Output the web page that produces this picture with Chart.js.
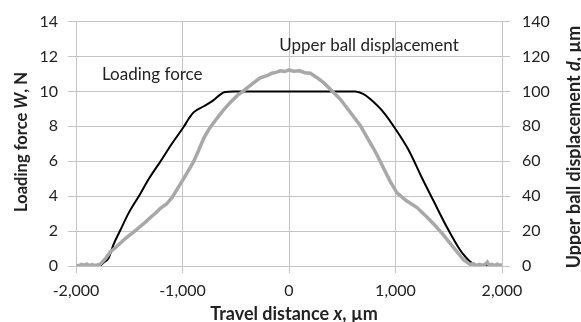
<!DOCTYPE html>
<html>
<head>
<meta charset="utf-8">
<script src="https://cdn.jsdelivr.net/npm/chart.js@4/dist/chart.umd.min.js"></script>
<style>
  html, body { margin: 0; padding: 0; background: #fff; }
</style>
</head>
<body>
<canvas id="graph" width="581" height="322"></canvas>
<script>
// 荷重 W [N] vs 移動距離 x [µm]
const forceX = [-2000, -1780, -1740, -1694, -1650, -1584, -1500, -1400, -1310, -1208, -1100, -990, -940, -896, -800, -708, -640, -600, -520, 0, 623, 700, 763, 888, 1008, 1123, 1249, 1358, 1483, 1608, 1660, 1702, 1749, 1780, 2000];
const forceW = [0, 0, 0.2, 0.45, 1.2, 2.05, 3.1, 4.1, 5.05, 5.98, 7.0, 7.96, 8.45, 8.8, 9.15, 9.5, 9.85, 9.97, 10, 10, 10, 9.85, 9.56, 8.8, 7.77, 6.64, 5.04, 3.72, 2.22, 0.9, 0.5, 0.24, 0.05, 0, 0];

// 上球の変位 d [µm]（測定ノイズ込み）
const dispX = [-2000, -1975, -1950, -1925, -1900, -1875, -1850, -1825, -1800, -1771, -1720, -1678, -1620, -1560, -1500, -1459, -1400, -1350, -1302, -1250, -1208, -1150, -1099, -1050, -995, -950, -896, -850, -802, -750, -692, -620, -551, -480, -441, -410, -330, -270, -200, -160, -120, -82, -40, 0, 40, 100, 150, 200, 260, 325, 400, 482, 570, 669, 730, 794, 840, 888, 950, 1014, 1100, 1202, 1280, 1358, 1440, 1515, 1580, 1640, 1702, 1730, 1760, 1790, 1820, 1845, 1862, 1880, 1905, 1930, 1955, 1980, 2000];
const dispD = [0.5, 0.1, 0.9, 0.3, 1.1, 0.2, 0.8, 0.3, 0.6, 1.0, 4.5, 8, 11, 14.5, 17.5, 19.4, 22.5, 25, 27.8, 30.5, 33, 35.5, 39.1, 44, 49.5, 54, 59.8, 66, 73, 78.5, 83.3, 89, 93.7, 98, 99.6, 101.2, 105, 107.8, 109.2, 110.4, 110.9, 111.8, 111.4, 112.3, 111.6, 111.8, 110.7, 110.4, 108, 105, 100.5, 95.5, 88.5, 80.5, 74, 67.3, 62, 56, 48.5, 41.9, 37.5, 33.5, 29, 24.1, 18.5, 12.8, 8, 3.4, 0.9, 1.3, 0.3, 1.0, 0.4, 1.1, 2.2, 0.4, 0.9, 0.2, 1.0, 0.4, 0.7];

const xTicks = [-2000, -1000, 0, 1000, 2000];
const wTicks = [0, 2, 4, 6, 8, 10, 12, 14];
const dTicks = [0, 20, 40, 60, 80, 100, 120, 140];

const gridColor = "#c4c4c4";
const textColor = "#222";
const fontFamily = "Lato, 'Open Sans', sans-serif";

// 軸タイトル（斜体部分を含む）
const titles = [
  { runs: [["Travel distance ", false], ["x", true], [", µm", false]], x: 294, y: 314, rot: 0, size: 18 },
  { runs: [["Loading force ", false], ["W", true], [", N", false]], x: 22, y: 142, rot: -Math.PI / 2, size: 16.5 },
  { runs: [["Upper ball displacement ", false], ["d", true], [", µm", false]], x: 574, y: 147, rot: -Math.PI / 2, size: 18 },
];

// グラフ中の系列名
const notes = [
  { text: "Loading force", x: -1756, w: 10.68 },
  { text: "Upper ball displacement", x: -91, w: 12.3 },
];

const titlePlugin = {
  id: "axisTitles",
  afterDraw(chart) {
    const ctx = chart.ctx;
    titles.forEach((t) => {
      const fontOf = (italic) => `bold ${italic ? "italic " : ""}${t.size}px ${fontFamily}`;
      ctx.save();
      ctx.translate(t.x, t.y);
      ctx.rotate(t.rot);
      ctx.fillStyle = textColor;
      ctx.textBaseline = "middle";
      ctx.textAlign = "left";
      let total = 0;
      t.runs.forEach(([s, it]) => {
        ctx.font = fontOf(it);
        total += ctx.measureText(s).width;
      });
      let pos = -total / 2;
      t.runs.forEach(([s, it]) => {
        ctx.font = fontOf(it);
        ctx.fillText(s, pos, 0);
        pos += ctx.measureText(s).width;
      });
      ctx.restore();
    });

    const xs = chart.scales.x;
    const ys = chart.scales.y;
    ctx.save();
    ctx.fillStyle = textColor;
    ctx.font = `17px ${fontFamily}`;
    ctx.textAlign = "left";
    ctx.textBaseline = "alphabetic";
    notes.forEach((n) => {
      ctx.fillText(n.text, xs.getPixelForValue(n.x), ys.getPixelForValue(n.w));
    });
    ctx.restore();
  },
};

const toPoints = (xsArr, ysArr) => xsArr.map((x, i) => ({ x, y: ysArr[i] }));

new Chart(document.getElementById("graph"), {
  type: "scatter",
  data: {
    datasets: [
      {
        label: "Loading force",
        data: toPoints(forceX, forceW),
        yAxisID: "y",
        showLine: true,
        borderColor: "#000",
        borderWidth: 2,
        pointRadius: 0,
        cubicInterpolationMode: "monotone",
        order: 1,
      },
      {
        label: "Upper ball displacement",
        data: toPoints(dispX, dispD),
        yAxisID: "y1",
        showLine: true,
        borderColor: "#a8a8a8",
        borderWidth: 3.5,
        pointRadius: 0,
        tension: 0,
        order: 0,
      },
    ],
  },
  options: {
    responsive: false,
    animation: false,
    layout: { padding: { top: 18, left: 0, right: 0, bottom: 0 } },
    plugins: {
      legend: { display: false },
      tooltip: { enabled: false },
    },
    scales: {
      x: {
        type: "linear",
        min: -2000,
        max: 2000,
        afterBuildTicks(scale) {
          scale.ticks = xTicks.map((v) => ({ value: v }));
        },
        afterFit(scale) {
          scale.height = 56;
        },
        grid: { color: gridColor, tickLength: 7, tickColor: gridColor },
        border: { color: gridColor },
        ticks: {
          color: textColor,
          font: { family: fontFamily, size: 16 },
          padding: 8,
          maxRotation: 0,
          callback: (v) => Number(v).toLocaleString("en-US"),
        },
      },
      y: {
        position: "left",
        min: 0,
        max: 14,
        afterBuildTicks(scale) {
          scale.ticks = wTicks.map((v) => ({ value: v }));
        },
        afterFit(scale) {
          scale.width = 76;
        },
        grid: { color: gridColor, tickLength: 8, tickColor: gridColor },
        border: { color: gridColor },
        ticks: {
          color: textColor,
          font: { family: fontFamily, size: 16 },
          padding: 10,
        },
      },
      y1: {
        position: "right",
        min: 0,
        max: 140,
        afterBuildTicks(scale) {
          scale.ticks = dTicks.map((v) => ({ value: v }));
        },
        afterFit(scale) {
          scale.width = 79;
        },
        grid: { drawOnChartArea: false, color: gridColor, tickLength: 8, tickColor: gridColor },
        border: { color: gridColor },
        ticks: {
          color: textColor,
          font: { family: fontFamily, size: 16 },
          padding: 12,
        },
      },
    },
  },
  plugins: [titlePlugin],
});
</script>
</body>
</html>
